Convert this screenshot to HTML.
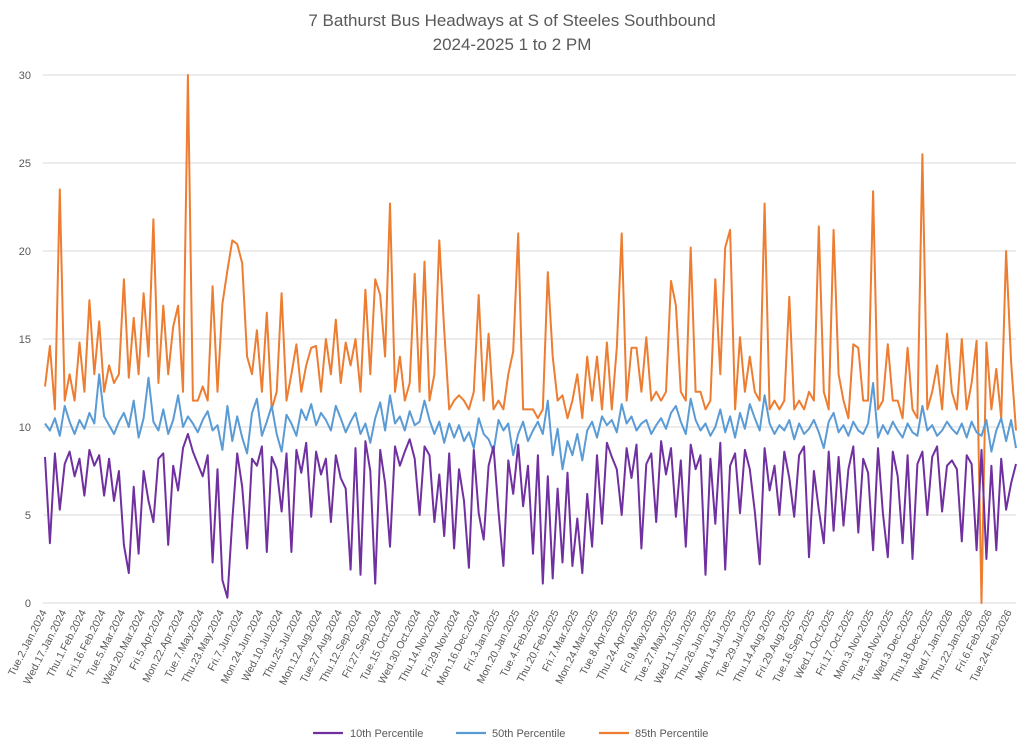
<!DOCTYPE html>
<html><head><meta charset="utf-8"><style>
html,body{margin:0;padding:0;background:#fff;}
svg{display:block;font-family:"Liberation Sans",sans-serif;}
</style></head><body>
<svg id="chart" width="1024" height="748" viewBox="0 0 1024 748" xmlns="http://www.w3.org/2000/svg">
<text x="512" y="26" text-anchor="middle" font-size="17" fill="#595959">7 Bathurst Bus Headways at S of Steeles Southbound</text>
<text x="512" y="50" text-anchor="middle" font-size="17" fill="#595959">2024-2025 1 to 2 PM</text>
<g id="grid"></g>
<g id="ylab"></g>
<g id="xlab"></g>
<g id="series"></g>
<g>
<line x1="313" y1="733" x2="343" y2="733" stroke="#7030A0" stroke-width="2.2"/>
<text x="350" y="737" font-size="11" fill="#595959">10th Percentile</text>
<line x1="456" y1="733" x2="486" y2="733" stroke="#5B9BD5" stroke-width="2.2"/>
<text x="492" y="737" font-size="11" fill="#595959">50th Percentile</text>
<line x1="599" y1="733" x2="629" y2="733" stroke="#ED7D31" stroke-width="2.2"/>
<text x="635" y="737" font-size="11" fill="#595959">85th Percentile</text>
</g>
</svg>
<script>
const yTicks = [0,5,10,15,20,25,30];
const xTickLabels = ["Tue.2.Jan.2024","Wed.17.Jan.2024","Thu.1.Feb.2024","Fri.16.Feb.2024","Tue.5.Mar.2024","Wed.20.Mar.2024","Fri.5.Apr.2024","Mon.22.Apr.2024","Tue.7.May.2024","Thu.23.May.2024","Fri.7.Jun.2024","Mon.24.Jun.2024","Wed.10.Jul.2024","Thu.25.Jul.2024","Mon.12.Aug.2024","Tue.27.Aug.2024","Thu.12.Sep.2024","Fri.27.Sep.2024","Tue.15.Oct.2024","Wed.30.Oct.2024","Thu.14.Nov.2024","Fri.29.Nov.2024","Mon.16.Dec.2024","Fri.3.Jan.2025","Mon.20.Jan.2025","Tue.4.Feb.2025","Thu.20.Feb.2025","Fri.7.Mar.2025","Mon.24.Mar.2025","Tue.8.Apr.2025","Thu.24.Apr.2025","Fri.9.May.2025","Tue.27.May.2025","Wed.11.Jun.2025","Thu.26.Jun.2025","Mon.14.Jul.2025","Tue.29.Jul.2025","Thu.14.Aug.2025","Fri.29.Aug.2025","Tue.16.Sep.2025","Wed.1.Oct.2025","Fri.17.Oct.2025","Mon.3.Nov.2025","Tue.18.Nov.2025","Wed.3.Dec.2025","Thu.18.Dec.2025","Wed.7.Jan.2026","Thu.22.Jan.2026","Fri.6.Feb.2026","Tue.24.Feb.2026"];
const p85 = [12.3,14.6,11.0,23.5,11.5,13,11.5,14.8,12,17.2,13,16,12,13.5,12.5,13,18.4,12.8,16.2,13,17.6,14,21.8,12.5,16.9,13,15.7,16.9,12,30,11.5,11.5,12.3,11.5,18,12,17,18.9,20.6,20.4,19.3,14,13,15.5,12,16.5,11,12,17.6,11.5,13,14.7,12,13.5,14.5,14.6,12,15,13,16.1,12.5,14.8,13.5,15,12,17.8,13,18.4,17.5,14,22.7,12,14,11.5,12.5,18.7,12,19.4,11.5,13,20.6,15.5,11,11.5,11.8,11.5,11,12,17.5,11.5,15.3,11,11.5,11,13,14.3,21,11,11,11,10.5,11,18.8,14,11.5,11.8,10.5,11.5,13,10.5,14,11.5,14,11,14.8,11,14.5,21,11.5,14.5,14.5,12,15.1,11.5,12,11.5,12,18.3,16.9,12,11.5,20.2,12,12,11,11.5,18.4,13,20.2,21.2,11,15.1,12,14,12,11.5,22.7,11,11.5,11,11.5,17.4,11,11.5,11,12,11.5,21.4,12,11,21.2,13,11.5,10.5,14.7,14.5,11.5,11.5,23.4,11,11.5,14.7,11.5,11.5,10.5,14.5,11,10.5,25.5,11,12,13.5,11,15.3,12,11,15,11,12.5,14.9,0,14.8,11,13.3,10.5,20,13.7,9.8];
const p50 = [10.2,9.8,10.5,9.5,11.2,10.3,9.6,10.4,9.9,10.8,10.2,13,10.6,10.1,9.6,10.3,10.8,10,11.5,9.4,10.5,12.8,10.3,9.8,11,9.6,10.4,11.8,10,10.6,10.2,9.7,10.4,10.9,9.8,10.1,8.7,11.2,9.2,10.6,9.4,8.5,10.8,11.6,9.5,10.3,11.2,9.6,8.6,10.7,10.2,9.5,11,10.4,11.3,10.1,10.8,10.4,9.8,11.2,10.5,9.7,10.3,10.8,9.6,10.2,9.1,10.5,11.4,9.8,11.8,10.2,10.6,9.8,10.9,10.1,10.3,11.5,10.4,9.6,10.3,9.1,10.2,9.4,10.1,9.2,9.7,8.8,10.5,9.6,9.3,8.6,10.4,9.8,10.2,8.4,9.6,10.3,9.2,9.8,10.3,9.6,11.5,8.4,9.9,7.6,9.2,8.4,9.6,8.1,9.8,10.3,9.4,10.6,10.1,10.4,9.7,11.3,10.2,10.6,9.8,10.2,10.4,9.6,10.1,10.5,9.9,10.8,11.2,10.3,9.6,11.6,10.4,9.8,10.2,9.5,10,11,9.7,10.6,9.4,10.8,9.9,11.3,10.5,9.8,11.8,10.2,9.6,10.1,9.8,10.4,9.3,10.2,9.6,9.9,10.4,9.7,8.8,10.3,10.8,9.7,10.1,9.5,10.3,9.8,9.6,10.2,12.5,9.4,10.1,9.6,10.3,9.8,9.4,10.2,9.7,9.5,11.2,9.8,10.1,9.5,9.8,10.3,9.9,9.6,10.2,9.4,10.3,9.7,9.5,10.4,8.6,9.8,10.5,9.2,10.4,8.8];
const p10 = [8.3,3.4,8.5,5.3,7.9,8.6,7.2,8.2,6.1,8.7,7.8,8.4,6.1,8.2,5.8,7.5,3.3,1.7,6.6,2.8,7.5,5.8,4.6,8.2,8.5,3.3,7.8,6.4,8.8,9.6,8.6,7.9,7.2,8.4,2.3,7.6,1.3,0.3,4.7,8.5,6.6,3.1,8.2,7.8,8.9,2.9,8.3,7.6,5.2,8.5,2.9,8.7,7.4,9.1,4.9,8.6,7.3,8.2,4.6,8.4,7.1,6.5,1.9,8.8,1.6,9.2,7.5,1.1,8.7,6.8,3.2,8.9,7.8,8.6,9.3,8.2,5.0,8.9,8.4,4.6,7.3,3.8,8.5,3.1,7.6,5.8,2.0,8.7,5.1,3.6,7.8,8.9,5.2,2.1,8.1,6.2,9.0,5.5,7.8,2.8,8.4,1.1,7.2,1.4,6.5,2.3,7.4,2.1,4.8,1.7,6.2,3.2,8.4,4.5,9.1,8.3,7.6,5.0,8.8,7.1,9.0,3.1,7.9,8.5,4.6,9.2,7.3,8.8,4.9,8.1,3.2,9.0,7.6,8.4,1.6,8.2,4.5,9.1,1.9,7.8,8.5,5.1,8.7,7.6,5.2,2.2,8.8,6.4,7.8,5.0,8.6,7.1,4.9,8.4,8.9,2.6,7.5,5.3,3.4,8.6,4.1,8.3,4.4,7.6,8.9,4.0,8.2,7.4,3.0,8.8,5.1,2.6,8.6,7.2,3.4,8.4,2.5,7.9,8.6,5.0,8.3,8.9,5.2,7.8,8.1,7.6,3.5,8.4,7.9,3.0,8.7,2.5,7.8,3.0,8.2,5.3,6.8,7.9];

const NS = "http://www.w3.org/2000/svg";
const X0 = 43, X1 = 1016, Y0 = 603, Y30 = 75;
function yScale(v){ return Y0 - (v/30)*(Y0-Y30); }
function xScale(i, n){ return 45 + i*(X1-45)/(n-1); }
function xTick(i){ return 47 + i*(1012-47)/(xTickLabels.length-1); }

const grid = document.getElementById('grid');
const ylab = document.getElementById('ylab');
yTicks.forEach(t=>{
  const l = document.createElementNS(NS,'line');
  l.setAttribute('x1',X0); l.setAttribute('x2',X1);
  l.setAttribute('y1',yScale(t)); l.setAttribute('y2',yScale(t));
  l.setAttribute('stroke','#d9d9d9'); l.setAttribute('stroke-width','1');
  
  
  grid.appendChild(l);
  const tx = document.createElementNS(NS,'text');
  tx.setAttribute('x',31); tx.setAttribute('y',yScale(t)+4);
  tx.setAttribute('text-anchor','end'); tx.setAttribute('font-size','11'); tx.setAttribute('fill','#595959');
  tx.textContent = t;
  
  
  ylab.appendChild(tx);
});

const xlab = document.getElementById('xlab');
xTickLabels.forEach((s,i)=>{
  const x = xTick(i), y = 612;
  const tx = document.createElementNS(NS,'text');
  tx.setAttribute('x',x); tx.setAttribute('y',y);
  tx.setAttribute('text-anchor','end'); tx.setAttribute('font-size','10.5'); tx.setAttribute('fill','#595959');
  tx.setAttribute('transform','rotate(-63 '+x+' '+y+')');
  tx.textContent = s;
  
  
  xlab.appendChild(tx);
});

const series = document.getElementById('series');
function drawLine(vals, color, name){
  const n = vals.length;
  const pts = vals.map((v,i)=>xScale(i,n).toFixed(1)+','+yScale(v).toFixed(1)).join(' ');
  const p = document.createElementNS(NS,'polyline');
  p.setAttribute('points',pts);
  p.setAttribute('fill','none'); p.setAttribute('stroke',color);
  p.setAttribute('stroke-width','2'); p.setAttribute('stroke-linejoin','round');
  
  
  series.appendChild(p);
}
drawLine(p85,'#ED7D31','line-85th-percentile');
drawLine(p50,'#5B9BD5','line-50th-percentile');
drawLine(p10,'#7030A0','line-10th-percentile');
</script>
</body></html>
